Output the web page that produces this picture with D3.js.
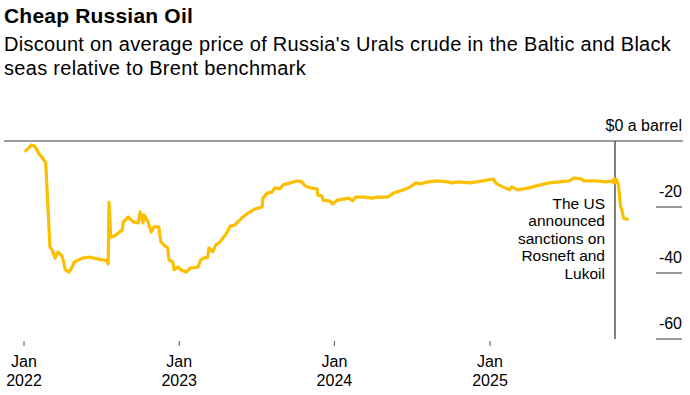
<!DOCTYPE html>
<html>
<head>
<meta charset="utf-8">
<script src="https://cdn.jsdelivr.net/npm/d3@7/dist/d3.min.js"></script>
<style>
  body { margin: 0; background: #fff; }
  svg { font-family: "Liberation Sans", Arial, Helvetica, sans-serif; }
</style>
</head>
<body>
<svg width="690" height="395"></svg>
<script>
// Urals discount to Brent, $ a barrel
var dates = [
  "2022-01-03","2022-01-19","2022-01-26","2022-02-07","2022-02-12","2022-02-17","2022-02-21",
  "2022-03-03","2022-03-08","2022-03-15","2022-03-22","2022-03-31","2022-04-05","2022-04-08",
  "2022-04-17","2022-04-24","2022-04-29","2022-05-18","2022-06-03","2022-06-26","2022-07-14",
  "2022-07-18","2022-07-20","2022-07-24","2022-08-02","2022-08-11","2022-08-20","2022-08-23",
  "2022-09-03","2022-09-15","2022-09-27","2022-10-01","2022-10-08","2022-10-10","2022-10-20",
  "2022-10-27","2022-11-03","2022-11-14","2022-11-19","2022-11-26","2022-12-05","2022-12-08",
  "2022-12-17","2022-12-20","2022-12-29","2023-01-05","2023-01-17","2023-01-28","2023-02-14",
  "2023-02-21","2023-02-28","2023-03-09","2023-03-12","2023-03-21","2023-03-28","2023-04-07",
  "2023-04-14","2023-04-24","2023-05-01","2023-05-12","2023-05-19","2023-05-31","2023-06-12",
  "2023-06-17","2023-06-28","2023-07-15","2023-07-17","2023-07-27","2023-08-07","2023-08-14",
  "2023-08-26","2023-09-02","2023-09-19","2023-10-05","2023-10-17","2023-10-24","2023-11-05",
  "2023-11-21","2023-11-23","2023-12-03","2023-12-05","2023-12-22","2023-12-27","2024-01-09",
  "2024-01-23","2024-02-04","2024-02-13","2024-02-20","2024-03-10","2024-03-31","2024-04-12",
  "2024-05-05","2024-05-19","2024-06-12","2024-06-28","2024-07-10","2024-07-21","2024-08-07",
  "2024-08-30","2024-09-23","2024-10-04","2024-10-18","2024-11-15","2024-12-15","2025-01-08",
  "2025-01-17","2025-01-31","2025-02-16","2025-02-21","2025-03-07","2025-04-03","2025-04-20",
  "2025-05-20","2025-06-13","2025-07-06","2025-07-18","2025-08-03","2025-08-10","2025-09-07",
  "2025-09-30","2025-10-22","2025-10-30","2025-11-04","2025-11-06","2025-11-11","2025-11-23"
];
var discount = [
  -3.3,-1.2,-1.5,-4.2,-4.8,-5.8,-6.5,
  -32,-33,-35.5,-33.6,-34.8,-37,-39,
  -39.7,-38.2,-36.7,-35.5,-35.2,-35.8,-36.3,
  -37.2,-18.5,-29.1,-28.8,-27.9,-27,-24.5,
  -23,-24.5,-24.8,-21.5,-24.8,-22.4,-24.5,
  -27.6,-26,-26,-30.6,-31.5,-32.4,-36,
  -36.7,-39,-38.2,-39,-39.7,-38.5,-38.2,
  -36,-35.5,-35.2,-32.4,-33.6,-31.5,-30.6,
  -29.4,-27.6,-25.8,-25.5,-24.5,-23,-21.8,
  -21.5,-20.6,-20,-17.3,-15.8,-15.5,-14.2,
  -14.5,-13.3,-12.7,-12.1,-12.4,-13.6,-14.2,
  -14.5,-16.4,-16.7,-17.9,-18.2,-19.1,-17.9,
  -17.6,-17.3,-18.2,-17,-17,-17.3,-17,
  -17,-15.8,-14.8,-13.9,-12.7,-13,-12.4,
  -12.1,-12.4,-12.7,-12.4,-12.7,-12.1,-11.5,
  -13,-13.9,-14.8,-13.9,-14.8,-14.2,-13.6,
  -12.7,-12.4,-12.1,-11.2,-11.5,-12.1,-12.1,
  -12.4,-12.1,-13,-20,-20.3,-23.3,-23.9
];
var yTicks = [-20, -40, -60];
var xTicks = ["2022-01-01","2023-01-01","2024-01-01","2025-01-01"];
var eventDate = "2025-10-22";
var eventValue = -12.1;
var eventNote = ["The US", "announced", "sanctions on", "Rosneft and", "Lukoil"];

var parse = d3.utcParse("%Y-%m-%d");
var series = dates.map(function(d, i) { return {date: parse(d), value: discount[i]}; });

var svg = d3.select("svg");
var gold = "#fbbf00";

var x = d3.scaleUtc()
  .domain([parse("2022-01-01"), parse("2025-01-01")])
  .range([24, 490]);
var y = d3.scaleLinear().domain([0, -60]).range([141, 339]);

// title + subtitle
svg.append("text").attr("x", 4).attr("y", 23)
  .style("font-size", "21px").style("font-weight", "bold")
  .style("letter-spacing", "0.2px")
  .text("Cheap Russian Oil");
svg.append("text").attr("x", 4).attr("y", 51).style("font-size", "20px")
  .style("letter-spacing", "0.3px")
  .text("Discount on average price of Russia's Urals crude in the Baltic and Black");
svg.append("text").attr("x", 4).attr("y", 75).style("font-size", "20px")
  .style("letter-spacing", "0.3px")
  .text("seas relative to Brent benchmark");

// zero line
svg.append("line")
  .attr("x1", 4).attr("x2", 683)
  .attr("y1", y(0)).attr("y2", y(0))
  .style("stroke", "#7a7a7a").style("stroke-width", 1.5);
svg.append("text").attr("x", 682).attr("y", y(0) - 10)
  .attr("text-anchor", "end").style("font-size", "16px")
  .text("$0 a barrel");

// right axis ticks
var yG = svg.append("g").selectAll("g").data(yTicks).enter().append("g");
yG.append("line")
  .attr("x1", 656).attr("x2", 682)
  .attr("y1", function(d) { return y(d); })
  .attr("y2", function(d) { return y(d); })
  .style("stroke", "#333").style("stroke-width", 1);
yG.append("text")
  .attr("x", 682).attr("y", function(d) { return y(d) - 10; })
  .attr("text-anchor", "end").style("font-size", "16px")
  .text(function(d) { return d; });

// bottom axis
var xG = svg.append("g").selectAll("g").data(xTicks).enter().append("g")
  .attr("transform", function(d) { return "translate(" + x(parse(d)) + ",0)"; });
xG.append("line").attr("y1", 341).attr("y2", 346)
  .style("stroke", "#555").style("stroke-width", 1);
xG.append("text").attr("y", 367).attr("text-anchor", "middle")
  .style("font-size", "16px").text("Jan");
xG.append("text").attr("y", 386).attr("text-anchor", "middle")
  .style("font-size", "16px").text(function(d) { return d.slice(0, 4); });

// event marker
var ex = x(parse(eventDate));
svg.append("line")
  .attr("x1", ex).attr("x2", ex).attr("y1", y(0)).attr("y2", y(-60))
  .style("stroke", "#555").style("stroke-width", 1.5);
svg.append("g").selectAll("text").data(eventNote).enter().append("text")
  .attr("x", ex - 10)
  .attr("y", function(d, i) { return 209 + i * 17.4; })
  .attr("text-anchor", "end").style("font-size", "15.5px")
  .text(function(d) { return d; });

// the line
var line = d3.line()
  .x(function(d) { return x(d.date); })
  .y(function(d) { return y(d.value); });
svg.append("path").datum(series)
  .attr("d", line)
  .style("fill", "none").style("stroke", gold)
  .style("stroke-width", 3.2).style("stroke-linejoin", "round");

svg.append("circle")
  .attr("cx", ex).attr("cy", y(eventValue)).attr("r", 3.5)
  .style("fill", gold);
</script>
</body>
</html>
